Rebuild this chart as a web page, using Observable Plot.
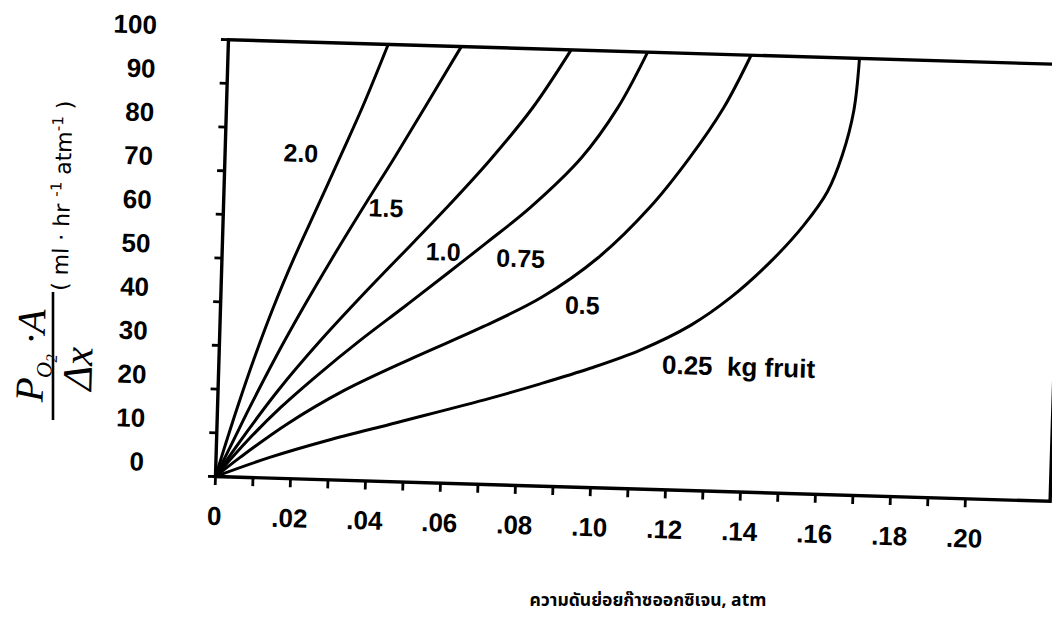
<!DOCTYPE html>
<html>
<head>
<meta charset="utf-8">
<script src="https://cdn.jsdelivr.net/npm/d3@7"></script>
<script src="https://cdn.jsdelivr.net/npm/@observablehq/plot@0.6"></script>
<style>
  html, body { margin: 0; padding: 0; background: #fff; }
  #wrap { position: relative; width: 1052px; height: 635px; overflow: hidden; background: #fff; }
  #chart svg { display: block; transform-origin: 215px 476px; transform: rotate(1.7deg); }
  #xtitle { position: relative; height: 65px; }
  #xtitle span { position: absolute; left: 648px; top: 17px; transform: translateX(-50%); white-space: nowrap;
    font-family: "Noto Sans Thai", "Noto Sans", "DejaVu Sans", sans-serif; font-size: 17.5px; font-weight: 700; color: #000; }
</style>
</head>
<body>
<div id="wrap">
  <div id="chart"></div>
  <div id="xtitle"><span>ความดันย่อยก๊าซออกซิเจน, atm</span></div>
</div>
<script>
// ---- data ----
const series = ["2.0", "1.5", "1.0", "0.75", "0.5", "0.25"];

const x20 = [0, 0.0027, 0.0053, 0.0095, 0.0141, 0.0193, 0.0250, 0.0310, 0.0362, 0.0426];
const y20 = [0, 8.3, 16.0, 27.6, 39.1, 50.7, 62.3, 74.6, 85.4, 100];

const x15 = [0, 0.0045, 0.0086, 0.0151, 0.0221, 0.0295, 0.0383, 0.0452, 0.0529, 0.0621];
const y15 = [0, 8.4, 16.1, 27.7, 39.3, 50.9, 64.1, 74.2, 85.9, 100];

const x10 = [0, 0.0064, 0.0160, 0.0269, 0.0388, 0.0510, 0.0592, 0.0705, 0.0816, 0.0914];
const y10 = [0, 8.4, 20.1, 31.8, 43.5, 55.0, 62.8, 74.1, 86.5, 100];

const x075 = [0, 0.0082, 0.0169, 0.0268, 0.0373, 0.0488, 0.0600, 0.0705, 0.0818, 0.0950, 0.1043, 0.1118];
const y075 = [0, 8.4, 16.3, 24.2, 32.0, 40.0, 47.9, 55.4, 63.7, 75.4, 87.1, 100];

const x05 = [0, 0.0065, 0.0187, 0.0335, 0.0520, 0.0697, 0.0855, 0.1003, 0.1135, 0.1238, 0.1325, 0.1394];
const y05 = [0, 4.6, 12.5, 20.5, 28.6, 35.9, 43.2, 52.7, 64.4, 76.1, 87.8, 100];

const x025 = [0, 0.0145, 0.0295, 0.0480, 0.0727, 0.0858, 0.0990, 0.1122, 0.1254, 0.1358, 0.1461, 0.1548, 0.1608, 0.1645, 0.1672, 0.1683];
const y025 = [0, 4.8, 9.0, 13.6, 19.8, 23.4, 27.3, 31.8, 37.8, 44.4, 52.8, 61.5, 69.3, 77.8, 88.0, 100];

const labelText = ["2.0", "1.5", "1.0", "0.75", "0.5", "0.25  kg fruit"];
const labelX = [0.0202, 0.0433, 0.0589, 0.0796, 0.0964, 0.1181];
const labelY = [74.4, 62.4, 52.8, 51.8, 41.5, 28.5];

const xTickValues = [0, 0.01, 0.02, 0.03, 0.04, 0.05, 0.06, 0.07, 0.08, 0.09, 0.10,
                     0.11, 0.12, 0.13, 0.14, 0.15, 0.16, 0.17, 0.18, 0.19, 0.20];
const xLabelValues = [0, 0.02, 0.04, 0.06, 0.08, 0.10, 0.12, 0.14, 0.16, 0.18, 0.20];
const xTickLabels = ["0", ".02", ".04", ".06", ".08", ".10", ".12", ".14", ".16", ".18", ".20"];
const yTickValues = [0, 10, 20, 30, 40, 50, 60, 70, 80, 90, 100];
const yTickLabels = ["0", "10", "20", "30", "40", "50", "60", "70", "80", "90", "100"];

// ---- build tables ----
const seriesX = [x20, x15, x10, x075, x05, x025];
const seriesY = [y20, y15, y10, y075, y05, y025];
const rows = series.flatMap((s, i) => seriesX[i].map((x, j) => ({s, x, y: seriesY[i][j]})));
const labels = labelText.map((t, i) => ({t, x: labelX[i], y: labelY[i]}));

const font = "'Liberation Sans', Arial, Helvetica, sans-serif";

const chart = Plot.plot({
  width: 1052,
  height: 570,
  marginLeft: 215,
  marginRight: 2,
  marginTop: 39,
  marginBottom: 94,
  x: {domain: [0, 0.2226]},
  y: {domain: [0, 100]},
  style: {fontFamily: font, fontSize: "26px", fontWeight: "bold", color: "#000", background: "transparent", overflow: "visible"},
  marks: [
    Plot.axisX({ticks: xTickValues, tickSize: 9, strokeWidth: 2.8, tickFormat: () => "", label: null}),
    Plot.axisX({ticks: xLabelValues, tickSize: 0, tickPadding: 30, label: null,
                tickFormat: d => xTickLabels[xLabelValues.indexOf(d)]}),
    Plot.axisY({ticks: yTickValues, tickSize: 7, strokeWidth: 2.8, tickFormat: () => "", label: null}),
    Plot.axisY({ticks: yTickValues, tickSize: 0, tickPadding: 72, dy: -12, label: null,
                tickFormat: d => yTickLabels[yTickValues.indexOf(d)]}),
    Plot.line(rows, {x: "x", y: "y", z: "s", curve: "catmull-rom", stroke: "#000", strokeWidth: 3, clip: true}),
    Plot.frame({stroke: "#000", strokeWidth: 3.4}),
    Plot.text(labels.slice(0, 5), {x: "x", y: "y", text: "t", textAnchor: "middle", fontSize: 25, fontWeight: "bold", fill: "#000"}),
    Plot.text(labels.slice(5), {x: "x", y: "y", text: "t", textAnchor: "start", fontSize: 26, fontWeight: "bold", fill: "#000"})
  ]
});

document.getElementById("chart").appendChild(chart);

// ---- rotated y-axis title (fraction with units), compensated for the sheet tilt ----
const ang = 1.7 * Math.PI / 180, ox = 215, oy = 476;
function unrot(px, py) {
  const dx = px - ox, dy = py - oy, c = Math.cos(ang), s = Math.sin(ang);
  return [ox + dx * c + dy * s, oy - dx * s + dy * c];
}
const svg = d3.select(chart);
const g = svg.append("g").attr("class", "ytitle").style("font-weight", "normal");

function rotText(px, py) {
  const [x, y] = unrot(px, py);
  return g.append("text")
    .attr("transform", `translate(${x},${y}) rotate(${-90})`)
    .attr("text-anchor", "middle")
    .attr("fill", "#000");
}
// numerator  P_{O2}·A
const num = rotText(44, 356)
  .style("font-family", "'Liberation Serif', 'DejaVu Serif', serif")
  .style("font-style", "italic").style("font-size", "40px");
num.append("tspan").text("P");
num.append("tspan").attr("dy", 8).style("font-size", "22px").text("O");
num.append("tspan").attr("dy", 5).style("font-size", "16px").text("2");
num.append("tspan").attr("dy", -13).style("font-size", "40px").text(" ·A");
// fraction bar
const [l1x, l1y] = unrot(53, 292), [l2x, l2y] = unrot(53, 420);
g.append("line").attr("x1", l1x).attr("y1", l1y).attr("x2", l2x).attr("y2", l2y)
  .attr("stroke", "#000").attr("stroke-width", 2.6);
// denominator Δx
rotText(92, 369)
  .style("font-family", "'Liberation Serif', 'DejaVu Serif', serif")
  .style("font-style", "italic").style("font-size", "42px").text("Δx");
// units ( ml · hr⁻¹ atm⁻¹ )
const un = rotText(70, 196)
  .style("font-family", "'DejaVu Sans', 'Liberation Sans', sans-serif").style("font-size", "22px");
un.append("tspan").text("( ml · hr ");
un.append("tspan").attr("dy", -9).style("font-size", "15px").text("-1");
un.append("tspan").attr("dy", 9).text(" atm");
un.append("tspan").attr("dy", -9).style("font-size", "15px").text("-1");
un.append("tspan").attr("dy", 9).text(" )");
</script>
</body>
</html>
